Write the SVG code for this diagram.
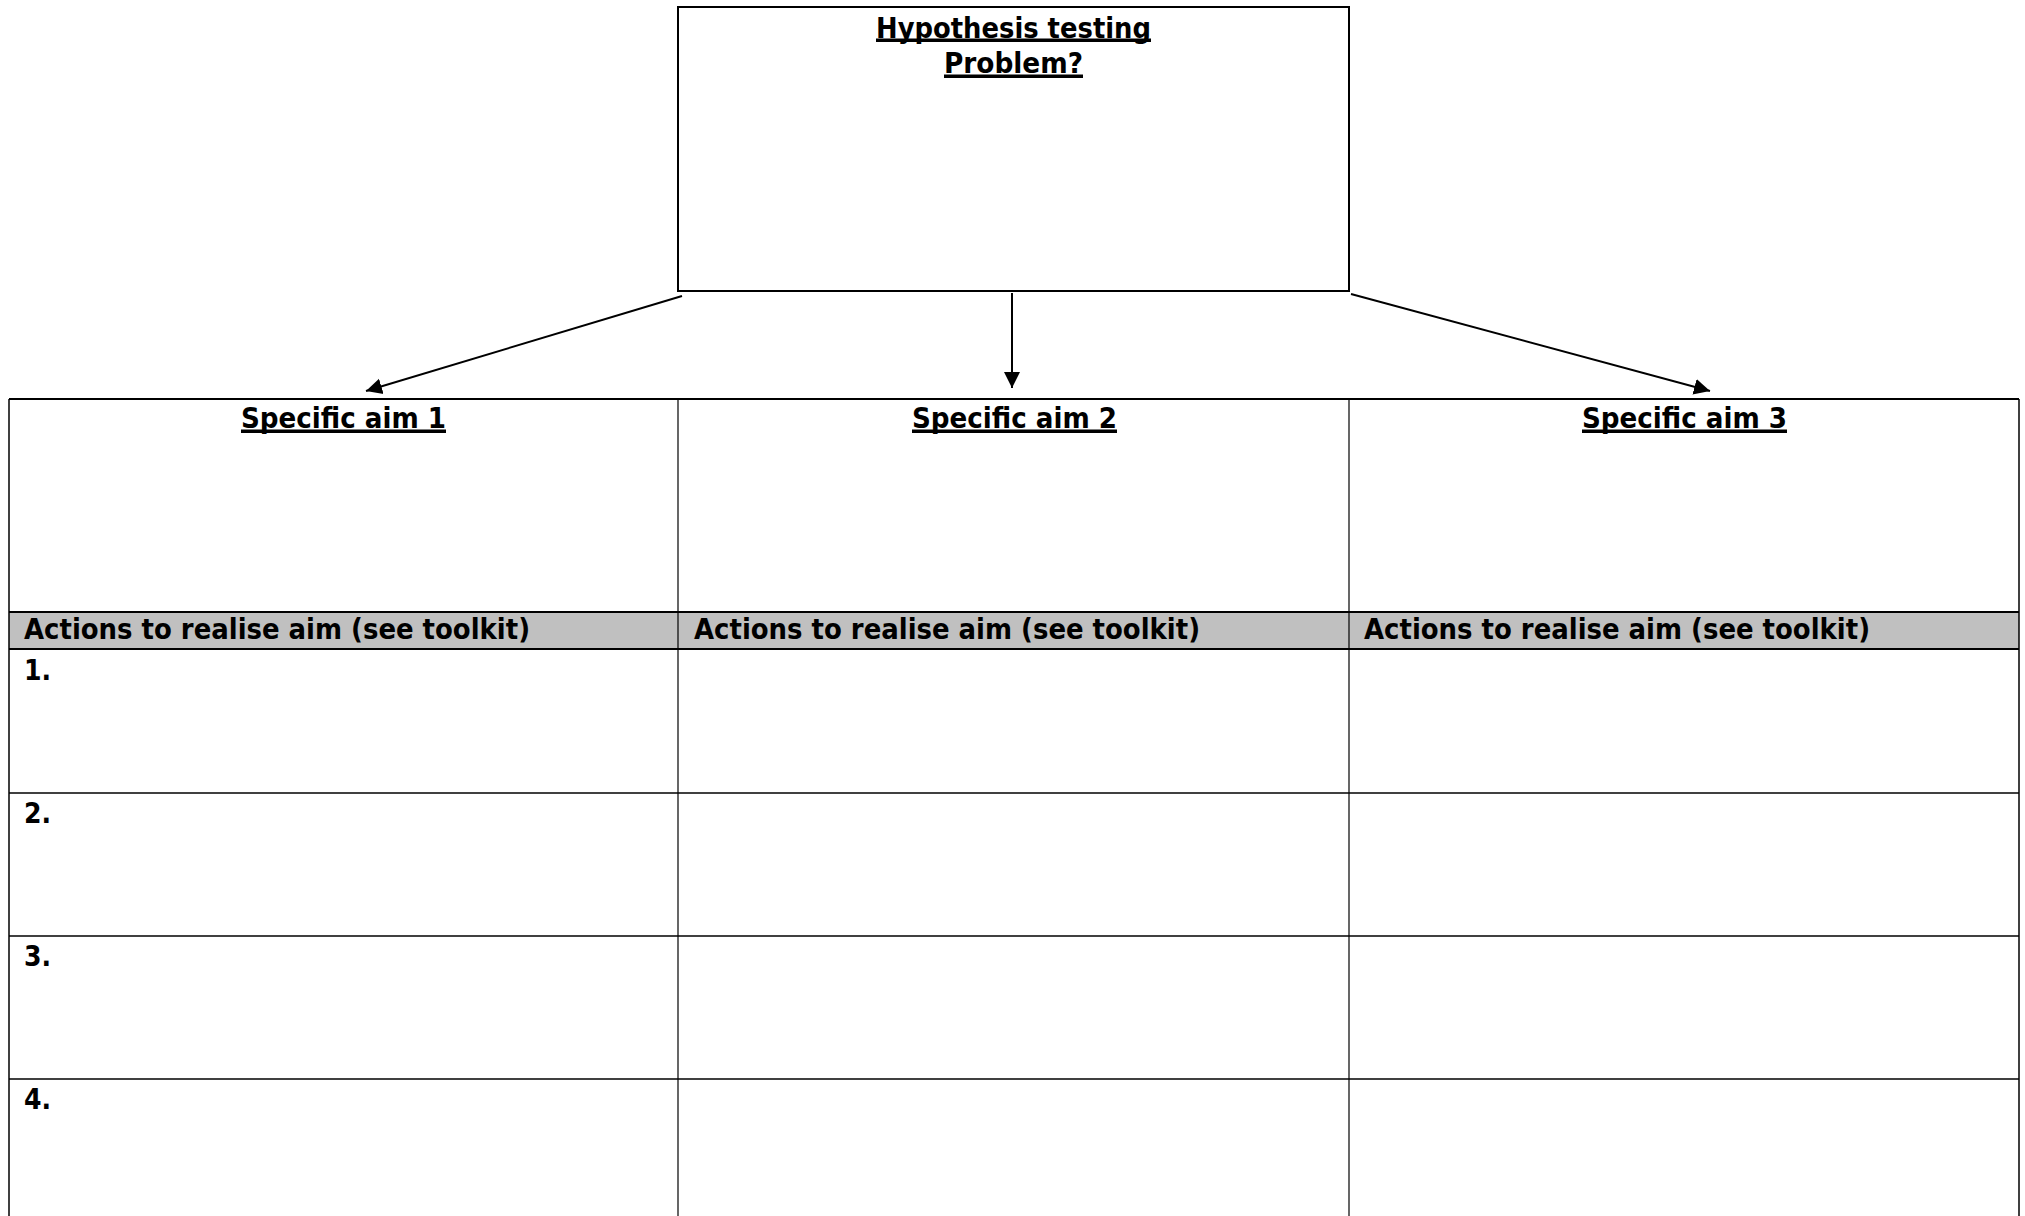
<svg xmlns="http://www.w3.org/2000/svg" width="2025" height="1216" viewBox="0 0 2025 1216">
<style>
.t{font-family:"DejaVu Sans Condensed","DejaVu Sans","Liberation Sans",sans-serif;font-weight:bold;font-size:28px;fill:#000}
.c{text-anchor:middle}
.ln{stroke:#000;fill:none}
.ul{fill:#000}
</style>
<defs>
<marker id="ah" markerUnits="userSpaceOnUse" markerWidth="18" markerHeight="18" viewBox="0 0 18 18" refX="16" refY="9" orient="auto">
<polygon points="0,1 16,9 0,17" fill="#000"/>
</marker>
</defs>
<rect width="2025" height="1216" fill="#fff"/>
<g id="problem">
<rect x="678" y="7" width="671" height="284" fill="#fff" stroke="#000" stroke-width="2"/>
<text class="t c" x="1013.5" y="37.5" textLength="275" lengthAdjust="spacingAndGlyphs">Hypothesis testing</text>
<rect class="ul" x="876" y="38.5" width="275" height="3.5"/>
<text class="t c" x="1013.5" y="72.5" textLength="139" lengthAdjust="spacingAndGlyphs">Problem?</text>
<rect class="ul" x="944" y="74.5" width="139" height="3.5"/>
</g>
<g id="table">
<rect x="9" y="612" width="2010" height="37" fill="#c0c0c0"/>
<line class="ln" x1="9" y1="399" x2="2019" y2="399" stroke-width="2"/>
<line class="ln" x1="9" y1="612" x2="2019" y2="612" stroke-width="2"/>
<line class="ln" x1="9" y1="649" x2="2019" y2="649" stroke-width="2"/>
<line class="ln" x1="9" y1="793" x2="2019" y2="793" stroke-width="1.5"/>
<line class="ln" x1="9" y1="936" x2="2019" y2="936" stroke-width="1.5"/>
<line class="ln" x1="9" y1="1079" x2="2019" y2="1079" stroke-width="1.5"/>
<line class="ln" x1="9" y1="399" x2="9" y2="1216" stroke-width="1.5"/>
<line class="ln" x1="678" y1="399" x2="678" y2="1216" stroke-width="1.2"/>
<line class="ln" x1="1349" y1="399" x2="1349" y2="1216" stroke-width="1.2"/>
<line class="ln" x1="2019" y1="399" x2="2019" y2="1216" stroke-width="1.5"/>
</g>
<g id="aim1">
<text class="t c" x="343.5" y="428" textLength="205" lengthAdjust="spacingAndGlyphs">Specific aim 1</text>
<rect class="ul" x="241" y="429.5" width="205" height="3.5"/>
<text class="t" x="24" y="639" textLength="506" lengthAdjust="spacingAndGlyphs">Actions to realise aim (see toolkit)</text>
<text class="t" x="24" y="680">1.</text>
<text class="t" x="24" y="823">2.</text>
<text class="t" x="24" y="966">3.</text>
<text class="t" x="24" y="1109">4.</text>
</g>
<g id="aim2">
<text class="t c" x="1014.5" y="428" textLength="205" lengthAdjust="spacingAndGlyphs">Specific aim 2</text>
<rect class="ul" x="912" y="429.5" width="205" height="3.5"/>
<text class="t" x="694" y="639" textLength="506" lengthAdjust="spacingAndGlyphs">Actions to realise aim (see toolkit)</text>
</g>
<g id="aim3">
<text class="t c" x="1684.5" y="428" textLength="205" lengthAdjust="spacingAndGlyphs">Specific aim 3</text>
<rect class="ul" x="1582" y="429.5" width="205" height="3.5"/>
<text class="t" x="1364" y="639" textLength="506" lengthAdjust="spacingAndGlyphs">Actions to realise aim (see toolkit)</text>
</g>
<g id="connectors">
<line class="ln" x1="682" y1="296" x2="366" y2="391" stroke-width="2" marker-end="url(#ah)"/>
<line class="ln" x1="1012" y1="293" x2="1012" y2="388" stroke-width="2" marker-end="url(#ah)"/>
<line class="ln" x1="1351" y1="294" x2="1710" y2="391" stroke-width="2" marker-end="url(#ah)"/>
</g>
</svg>
